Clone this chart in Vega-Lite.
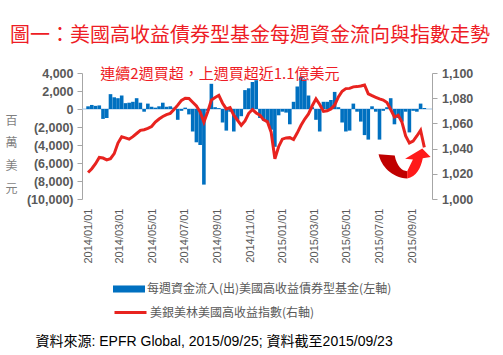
{
  "$schema": "https://vega.github.io/schema/vega-lite/v6.json",
  "width": 350,
  "height": 126,
  "autosize": {"type": "none"},
  "padding": {"left": 82, "top": 73, "right": 71, "bottom": 156},
  "background": "white",
  "config": {
    "view": {"stroke": null},
    "font": "Liberation Sans",
    "axisX": {
      "format": "%Y/%m/%d", "formatType": "utc",
      "labelAngle": -90, "labelOverlap": false, "labelFlush": false,
      "domain": false, "ticks": false, "grid": false,
      "labelPadding": 9, "labelFont": "Liberation Sans", "labelFontSize": 11, "labelColor": "#595959",
      "titleX": -47, "titleY": 142, "titleAlign": "left", "titleBaseline": "middle", "titleAngle": 0,
      "titleFont": "Liberation Sans, Noto Sans CJK TC", "titleFontSize": 14, "titleFontWeight": "normal", "titleColor": "#000000"
    },
    "axisY": {
      "grid": false, "labelOverlap": false, "domainColor": "#a6a6a6", "tickColor": "#a6a6a6", "tickSize": 5,
      "labelFont": "Liberation Sans", "labelFontSize": 12.5, "labelFontWeight": "bold", "labelColor": "#595959"
    }
  },
  "title": {
    "text": "圖一：美國高收益債券型基金每週資金流向與指數走勢",
    "anchor": "start", "frame": "group", "dx": -72, "offset": 21,
    "font": "Noto Sans CJK TC", "fontSize": 20, "fontWeight": "normal", "color": "#ee1c25"
  },
  "datasets": {
    "weekly": [
      {"date": "2014-01-01", "flow": 300, "index": 1021},
      {"date": "2014-01-08", "flow": 450, "index": 1024},
      {"date": "2014-01-15", "flow": 350, "index": 1028},
      {"date": "2014-01-22", "flow": 400, "index": 1033},
      {"date": "2014-01-29", "flow": -1100, "index": 1032.5},
      {"date": "2014-02-05", "flow": -1000, "index": 1031},
      {"date": "2014-02-12", "flow": 1650, "index": 1032},
      {"date": "2014-02-19", "flow": 1300, "index": 1036},
      {"date": "2014-02-26", "flow": 1200, "index": 1044.4},
      {"date": "2014-03-05", "flow": 1500, "index": 1049.4},
      {"date": "2014-03-12", "flow": 650, "index": 1048.5},
      {"date": "2014-03-19", "flow": 700, "index": 1047.5},
      {"date": "2014-03-26", "flow": 800, "index": 1049.5},
      {"date": "2014-04-02", "flow": 1200, "index": 1052},
      {"date": "2014-04-09", "flow": 700, "index": 1054.5},
      {"date": "2014-04-16", "flow": -300, "index": 1055},
      {"date": "2014-04-23", "flow": 600, "index": 1056},
      {"date": "2014-04-30", "flow": 250, "index": 1057.5},
      {"date": "2014-05-07", "flow": 150, "index": 1061},
      {"date": "2014-05-14", "flow": 300, "index": 1063.5},
      {"date": "2014-05-21", "flow": 700, "index": 1065.5},
      {"date": "2014-05-28", "flow": 250, "index": 1067},
      {"date": "2014-06-04", "flow": 300, "index": 1068},
      {"date": "2014-06-11", "flow": 150, "index": 1071},
      {"date": "2014-06-18", "flow": -1200, "index": 1074.5},
      {"date": "2014-06-25", "flow": -200, "index": 1078.3},
      {"date": "2014-07-02", "flow": 150, "index": 1080},
      {"date": "2014-07-09", "flow": -600, "index": 1079.8},
      {"date": "2014-07-16", "flow": -2500, "index": 1076.8},
      {"date": "2014-07-23", "flow": -3700, "index": 1073.8},
      {"date": "2014-07-30", "flow": -4000, "index": 1069},
      {"date": "2014-08-06", "flow": -8400, "index": 1061},
      {"date": "2014-08-13", "flow": -200, "index": 1069},
      {"date": "2014-08-20", "flow": 2800, "index": 1078.5},
      {"date": "2014-08-27", "flow": 200, "index": 1080.5},
      {"date": "2014-09-03", "flow": 100, "index": 1082.3},
      {"date": "2014-09-10", "flow": -1500, "index": 1076},
      {"date": "2014-09-17", "flow": -2400, "index": 1071.5},
      {"date": "2014-09-24", "flow": -300, "index": 1072.5},
      {"date": "2014-10-01", "flow": -2500, "index": 1066.5},
      {"date": "2014-10-08", "flow": -1200, "index": 1062.5},
      {"date": "2014-10-15", "flow": -800, "index": 1058.5},
      {"date": "2014-10-22", "flow": 2100, "index": 1062},
      {"date": "2014-10-29", "flow": 2300, "index": 1068},
      {"date": "2014-11-05", "flow": 3000, "index": 1071},
      {"date": "2014-11-12", "flow": 3200, "index": 1068.3},
      {"date": "2014-11-19", "flow": -1000, "index": 1066.5},
      {"date": "2014-11-26", "flow": -1300, "index": 1062.8},
      {"date": "2014-12-03", "flow": -1500, "index": 1061.4},
      {"date": "2014-12-10", "flow": -2300, "index": 1053},
      {"date": "2014-12-17", "flow": -4200, "index": 1032},
      {"date": "2014-12-24", "flow": -700, "index": 1041.5},
      {"date": "2014-12-31", "flow": -300, "index": 1047.5},
      {"date": "2015-01-07", "flow": -400, "index": 1048.5},
      {"date": "2015-01-14", "flow": -1700, "index": 1048.7},
      {"date": "2015-01-21", "flow": 800, "index": 1047.2},
      {"date": "2015-01-28", "flow": 2500, "index": 1052.5},
      {"date": "2015-02-04", "flow": 3600, "index": 1058.5},
      {"date": "2015-02-11", "flow": 3300, "index": 1063.5},
      {"date": "2015-02-18", "flow": 1500, "index": 1067.5},
      {"date": "2015-02-25", "flow": 200, "index": 1074},
      {"date": "2015-03-04", "flow": -1200, "index": 1079.5},
      {"date": "2015-03-11", "flow": -2500, "index": 1075},
      {"date": "2015-03-18", "flow": 800, "index": 1069.5},
      {"date": "2015-03-25", "flow": 800, "index": 1070},
      {"date": "2015-04-01", "flow": 1000, "index": 1071.5},
      {"date": "2015-04-08", "flow": 1900, "index": 1074.5},
      {"date": "2015-04-15", "flow": 200, "index": 1081},
      {"date": "2015-04-22", "flow": -1500, "index": 1085.5},
      {"date": "2015-04-29", "flow": -2500, "index": 1087.6},
      {"date": "2015-05-06", "flow": -2400, "index": 1087.8},
      {"date": "2015-05-13", "flow": 600, "index": 1089},
      {"date": "2015-05-20", "flow": -300, "index": 1089.2},
      {"date": "2015-05-27", "flow": -1400, "index": 1089.7},
      {"date": "2015-06-03", "flow": -2900, "index": 1090.5},
      {"date": "2015-06-10", "flow": -3400, "index": 1083.5},
      {"date": "2015-06-17", "flow": 300, "index": 1082},
      {"date": "2015-06-24", "flow": -300, "index": 1080.7},
      {"date": "2015-07-01", "flow": -3400, "index": 1079.4},
      {"date": "2015-07-08", "flow": -200, "index": 1078.5},
      {"date": "2015-07-15", "flow": 200, "index": 1076.5},
      {"date": "2015-07-22", "flow": 1200, "index": 1071},
      {"date": "2015-07-29", "flow": -1700, "index": 1065},
      {"date": "2015-08-05", "flow": -1000, "index": 1066.5},
      {"date": "2015-08-12", "flow": -1400, "index": 1061},
      {"date": "2015-08-19", "flow": -300, "index": 1050},
      {"date": "2015-08-26", "flow": -2600, "index": 1044.5},
      {"date": "2015-09-02", "flow": -200, "index": 1046},
      {"date": "2015-09-09", "flow": -300, "index": 1050},
      {"date": "2015-09-16", "flow": 600, "index": 1054.5},
      {"date": "2015-09-23", "flow": 110, "index": 1041}
    ]
  },
  "layer": [
    {
      "layer": [
        {
          "data": {"values": [{"k": 0}]},
          "mark": {"type": "rule", "color": "#9dc3e6", "strokeWidth": 1},
          "encoding": {
            "y": {
              "datum": 0, "type": "quantitative",
              "scale": {"domain": [-10000, 4000], "nice": false, "zero": false},
              "axis": {
                "orient": "left",
                "values": [4000, 2000, 0, -2000, -4000, -6000, -8000, -10000],
                "labelExpr": "datum.value < 0 ? '(' + format(-datum.value, ',') + ')' : format(datum.value, ',')",
                "labelPadding": 4,
                "title": ["百", "萬", "美", "元"], "titleAngle": 0, "titleX": -71, "titleY": 47,
                "titleAlign": "center", "titleBaseline": "middle", "titleLineHeight": 22.7,
                "titleFont": "Noto Sans CJK TC", "titleFontSize": 12, "titleFontWeight": "normal", "titleColor": "#7f7f7f"
              }
            }
          }
        },
        {
          "data": {"name": "weekly"},
          "mark": {"type": "bar", "size": 3.6},
          "encoding": {
            "x": {
              "field": "date", "type": "temporal",
              "scale": {"type": "utc", "domain": [{"year": 2013, "month": 12, "date": 30, "utc": true}, {"year": 2015, "month": 9, "date": 28, "utc": true}]},
              "axis": {
                "values": [
                  {"year": 2014, "month": 1, "date": 1, "utc": true},
                  {"year": 2014, "month": 3, "date": 1, "utc": true},
                  {"year": 2014, "month": 5, "date": 1, "utc": true},
                  {"year": 2014, "month": 7, "date": 1, "utc": true},
                  {"year": 2014, "month": 9, "date": 1, "utc": true},
                  {"year": 2014, "month": 11, "date": 1, "utc": true},
                  {"year": 2015, "month": 1, "date": 1, "utc": true},
                  {"year": 2015, "month": 3, "date": 1, "utc": true},
                  {"year": 2015, "month": 5, "date": 1, "utc": true},
                  {"year": 2015, "month": 7, "date": 1, "utc": true},
                  {"year": 2015, "month": 9, "date": 1, "utc": true}
                ],
                "format": "%Y/%m/%d", "formatType": "utc",
                "title": "資料來源: EPFR Global, 2015/09/25; 資料截至2015/09/23"
              }
            },
            "y": {
              "field": "flow", "type": "quantitative",
              "scale": {"domain": [-10000, 4000], "nice": false, "zero": false},
              "axis": {
                "orient": "left",
                "values": [4000, 2000, 0, -2000, -4000, -6000, -8000, -10000],
                "labelExpr": "datum.value < 0 ? '(' + format(-datum.value, ',') + ')' : format(datum.value, ',')",
                "labelPadding": 4,
                "title": ["百", "萬", "美", "元"], "titleAngle": 0, "titleX": -71, "titleY": 47,
                "titleAlign": "center", "titleBaseline": "middle", "titleLineHeight": 22.7,
                "titleFont": "Noto Sans CJK TC", "titleFontSize": 12, "titleFontWeight": "normal", "titleColor": "#7f7f7f"
              }
            },
            "fill": {
              "datum": "每週資金流入(出)美國高收益債券型基金(左軸)", "type": "nominal",
              "scale": {"range": ["#0070c0"]},
              "legend": {
                "orient": "none", "legendX": 31, "legendY": 200, "title": null, "padding": 0,
                "symbolType": "M-1,-0.22H1V0.22H-1Z", "symbolSize": 1024, "symbolStrokeWidth": 0,
                "labelFont": "Noto Sans CJK TC", "labelFontSize": 12, "labelColor": "#595959", "labelOffset": 2, "labelLimit": 400
              }
            }
          }
        }
      ]
    },
    {
      "layer": [
        {
          "data": {"name": "weekly"},
          "mark": {"type": "line", "strokeWidth": 3},
          "encoding": {
            "x": {
              "field": "date", "type": "temporal",
              "scale": {"type": "utc", "domain": [{"year": 2013, "month": 12, "date": 30, "utc": true}, {"year": 2015, "month": 9, "date": 28, "utc": true}]},
              "axis": {
                "values": [
                  {"year": 2014, "month": 1, "date": 1, "utc": true},
                  {"year": 2014, "month": 3, "date": 1, "utc": true},
                  {"year": 2014, "month": 5, "date": 1, "utc": true},
                  {"year": 2014, "month": 7, "date": 1, "utc": true},
                  {"year": 2014, "month": 9, "date": 1, "utc": true},
                  {"year": 2014, "month": 11, "date": 1, "utc": true},
                  {"year": 2015, "month": 1, "date": 1, "utc": true},
                  {"year": 2015, "month": 3, "date": 1, "utc": true},
                  {"year": 2015, "month": 5, "date": 1, "utc": true},
                  {"year": 2015, "month": 7, "date": 1, "utc": true},
                  {"year": 2015, "month": 9, "date": 1, "utc": true}
                ],
                "format": "%Y/%m/%d", "formatType": "utc",
                "title": "資料來源: EPFR Global, 2015/09/25; 資料截至2015/09/23"
              }
            },
            "y": {
              "field": "index", "type": "quantitative",
              "scale": {"domain": [1000, 1100], "nice": false, "zero": false},
              "axis": {"orient": "right", "values": [1000, 1020, 1040, 1060, 1080, 1100], "labelExpr": "format(datum.value, ',')", "labelPadding": 4.5, "title": null}
            },
            "stroke": {
              "datum": "美銀美林美國高收益指數(右軸)", "type": "nominal",
              "scale": {"range": ["#e8231f"]},
              "legend": {
                "orient": "none", "legendX": 31, "legendY": 222, "title": null, "padding": 0,
                "symbolType": "stroke", "symbolSize": 1024, "symbolStrokeWidth": 3,
                "labelFont": "Noto Sans CJK TC", "labelFontSize": 12, "labelColor": "#595959", "labelOffset": 2, "labelLimit": 400
              }
            }
          }
        },
        {
          "data": {"values": [{"k": 0}]},
          "mark": {"type": "text", "align": "left", "baseline": "middle", "font": "Noto Sans CJK TC", "fontSize": 15, "color": "#ee1c25", "text": "連續2週買超，上週買超近1.1億美元"},
          "encoding": {
            "x": {
              "datum": {"year": 2014, "month": 1, "date": 24, "utc": true}, "type": "temporal",
              "axis": {
                "values": [
                  {"year": 2014, "month": 1, "date": 1, "utc": true},
                  {"year": 2014, "month": 3, "date": 1, "utc": true},
                  {"year": 2014, "month": 5, "date": 1, "utc": true},
                  {"year": 2014, "month": 7, "date": 1, "utc": true},
                  {"year": 2014, "month": 9, "date": 1, "utc": true},
                  {"year": 2014, "month": 11, "date": 1, "utc": true},
                  {"year": 2015, "month": 1, "date": 1, "utc": true},
                  {"year": 2015, "month": 3, "date": 1, "utc": true},
                  {"year": 2015, "month": 5, "date": 1, "utc": true},
                  {"year": 2015, "month": 7, "date": 1, "utc": true},
                  {"year": 2015, "month": 9, "date": 1, "utc": true}
                ],
                "format": "%Y/%m/%d", "formatType": "utc",
                "title": "資料來源: EPFR Global, 2015/09/25; 資料截至2015/09/23"
              }
            },
            "y": {
              "datum": 1099.3, "type": "quantitative",
              "axis": {"orient": "right", "values": [1000, 1020, 1040, 1060, 1080, 1100], "labelExpr": "format(datum.value, ',')", "labelPadding": 4.5, "title": null}
            }
          }
        },
        {
          "data": {"values": [{"k": 0}]},
          "mark": {"type": "point", "shape": "M-1,-0.35L-0.38,-0.3C-0.3,0.1,-0.1,0.3,0.1,0.3L0.1,0.58C-0.5,0.55,-0.9,0.1,-1,-0.35Z", "filled": true, "size": 2704, "color": "#c00000", "opacity": 1, "strokeWidth": 0},
          "encoding": {
            "x": {
              "datum": {"year": 2015, "month": 8, "date": 17, "utc": true}, "type": "temporal",
              "axis": {
                "values": [
                  {"year": 2014, "month": 1, "date": 1, "utc": true},
                  {"year": 2014, "month": 3, "date": 1, "utc": true},
                  {"year": 2014, "month": 5, "date": 1, "utc": true},
                  {"year": 2014, "month": 7, "date": 1, "utc": true},
                  {"year": 2014, "month": 9, "date": 1, "utc": true},
                  {"year": 2014, "month": 11, "date": 1, "utc": true},
                  {"year": 2015, "month": 1, "date": 1, "utc": true},
                  {"year": 2015, "month": 3, "date": 1, "utc": true},
                  {"year": 2015, "month": 5, "date": 1, "utc": true},
                  {"year": 2015, "month": 7, "date": 1, "utc": true},
                  {"year": 2015, "month": 9, "date": 1, "utc": true}
                ],
                "format": "%Y/%m/%d", "formatType": "utc",
                "title": "資料來源: EPFR Global, 2015/09/25; 資料截至2015/09/23"
              }
            },
            "y": {
              "datum": 1028.3, "type": "quantitative",
              "axis": {"orient": "right", "values": [1000, 1020, 1040, 1060, 1080, 1100], "labelExpr": "format(datum.value, ',')", "labelPadding": 4.5, "title": null}
            }
          }
        },
        {
          "data": {"values": [{"k": 0}]},
          "mark": {"type": "point", "shape": "M0.1,0.3L0.32,-0.15L0.02,-0.18L0.68,-0.57L1,-0.24L0.7,-0.2C0.62,0.2,0.45,0.5,0.1,0.58Z", "filled": true, "size": 2704, "color": "#ff1a1a", "opacity": 1, "strokeWidth": 0},
          "encoding": {
            "x": {
              "datum": {"year": 2015, "month": 8, "date": 17, "utc": true}, "type": "temporal",
              "axis": {
                "values": [
                  {"year": 2014, "month": 1, "date": 1, "utc": true},
                  {"year": 2014, "month": 3, "date": 1, "utc": true},
                  {"year": 2014, "month": 5, "date": 1, "utc": true},
                  {"year": 2014, "month": 7, "date": 1, "utc": true},
                  {"year": 2014, "month": 9, "date": 1, "utc": true},
                  {"year": 2014, "month": 11, "date": 1, "utc": true},
                  {"year": 2015, "month": 1, "date": 1, "utc": true},
                  {"year": 2015, "month": 3, "date": 1, "utc": true},
                  {"year": 2015, "month": 5, "date": 1, "utc": true},
                  {"year": 2015, "month": 7, "date": 1, "utc": true},
                  {"year": 2015, "month": 9, "date": 1, "utc": true}
                ],
                "format": "%Y/%m/%d", "formatType": "utc",
                "title": "資料來源: EPFR Global, 2015/09/25; 資料截至2015/09/23"
              }
            },
            "y": {
              "datum": 1028.3, "type": "quantitative",
              "axis": {"orient": "right", "values": [1000, 1020, 1040, 1060, 1080, 1100], "labelExpr": "format(datum.value, ',')", "labelPadding": 4.5, "title": null}
            }
          }
        }
      ]
    }
  ],
  "resolve": {"scale": {"y": "independent"}}
}
